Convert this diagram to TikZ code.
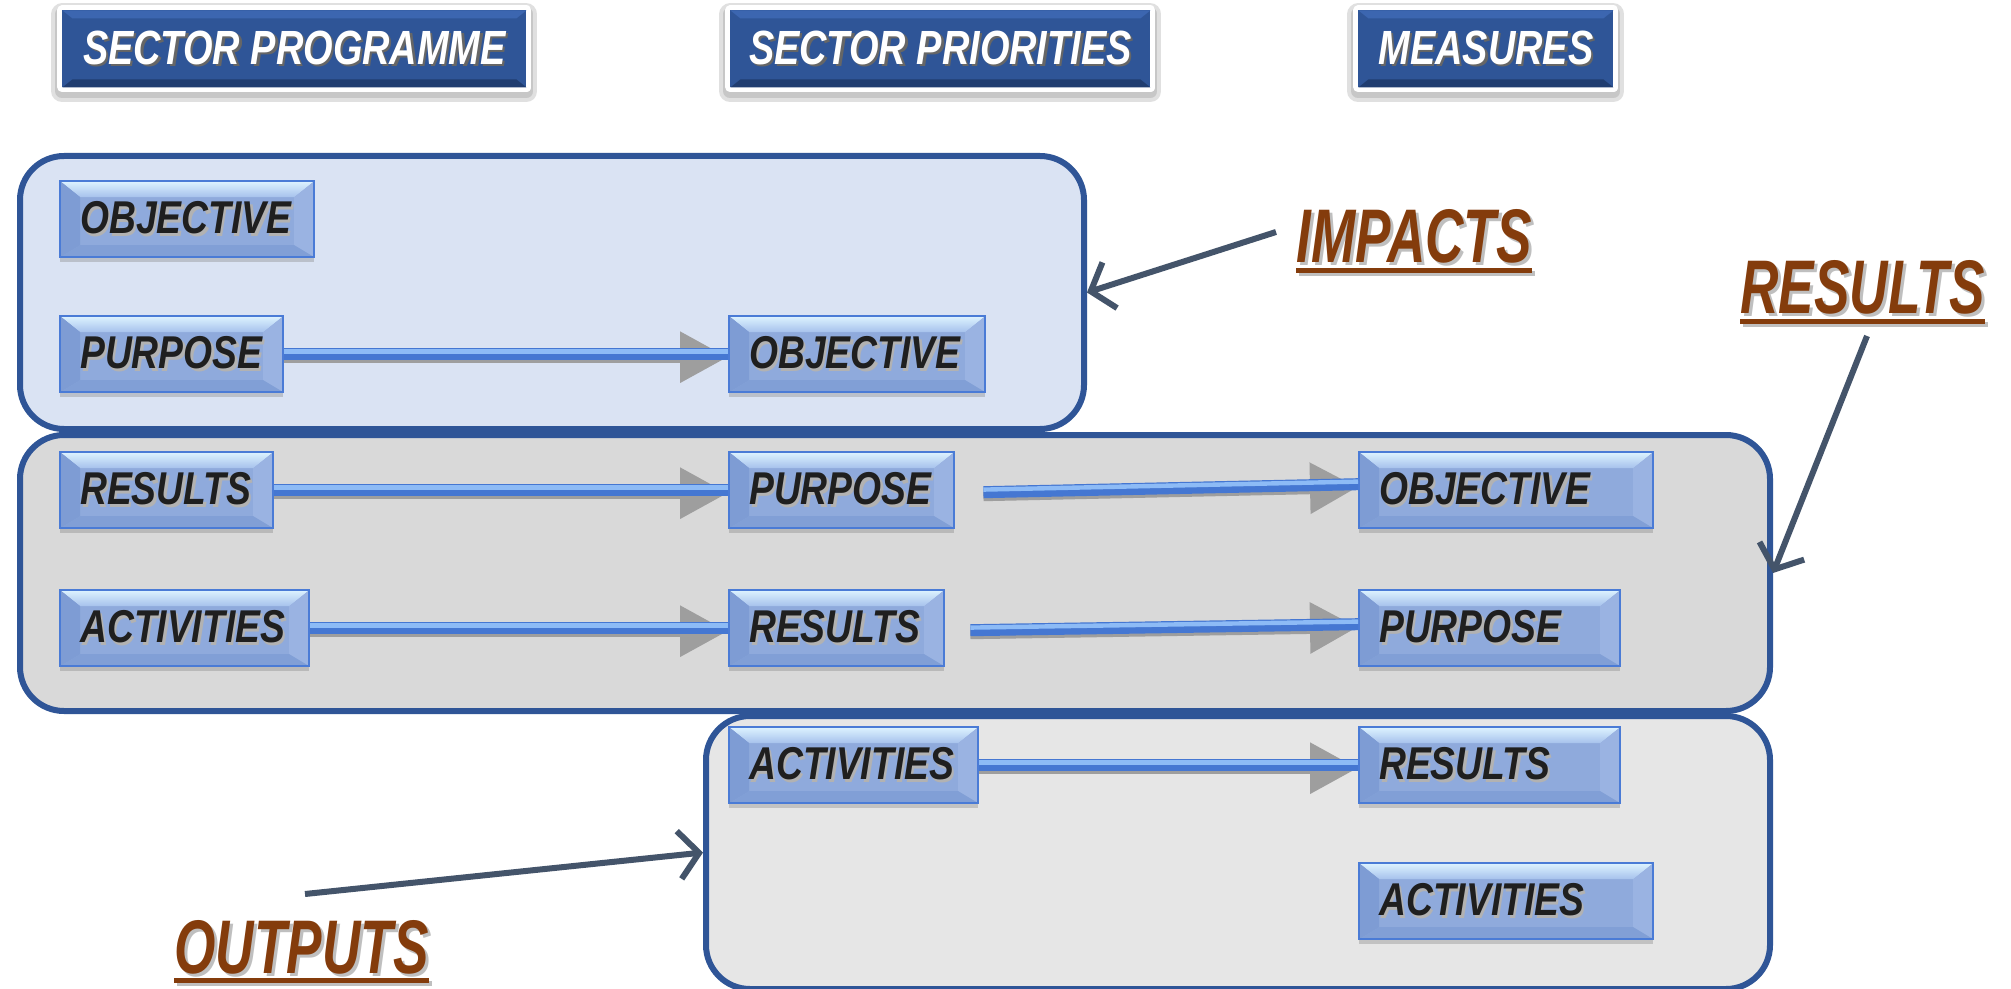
\documentclass[tikz,border=0pt]{standalone}
\usepackage{fontspec}
\newfontfamily\boxfont{Liberation Sans}[FakeStretch=0.81]
\newfontfamily\headfont{Liberation Sans}[FakeStretch=0.79]
\newfontfamily\labfont{Liberation Sans}[FakeStretch=0.70]
\usetikzlibrary{arrows.meta,shadows,calc}
\definecolor{hblue}{HTML}{2F5597}
\definecolor{htop}{HTML}{3C66B0}
\definecolor{hbot}{HTML}{203D70}
\definecolor{sbody}{HTML}{8FAADC}
\definecolor{sbord}{HTML}{4A7BD6}
\definecolor{stop}{HTML}{DDF3FF}
\definecolor{stopb}{HTML}{A6C1EC}
\definecolor{sleft}{HTML}{7E9CD4}
\definecolor{sright}{HTML}{9AB3E2}
\definecolor{sbot}{HTML}{819FD6}
\definecolor{lblue}{HTML}{DAE3F3}
\definecolor{gbox}{HTML}{D9D9D9}
\definecolor{gbox2}{HTML}{E6E6E6}
\definecolor{barblue}{HTML}{4577D2}
\definecolor{barlight}{HTML}{8DBBF6}
\definecolor{slate}{HTML}{44546A}
\definecolor{brown}{HTML}{843C0C}
\newcommand\sh[2]{\rlap{\kern1.2pt\raisebox{-1.2pt}{\color{#1}#2}}#2}
\newcommand\ulab[1]{%
  \setbox0\hbox{#1}%
  \rlap{\kern1.5pt\raisebox{-1.5pt}{\color{black!25}\vtop{\copy0\kern2pt\hrule height2.6pt width\wd0}}}%
  \vtop{\copy0\kern2pt\hrule height2.6pt width\wd0}}
\tikzset{
  sbevel/.style={path picture={
    \path (path picture bounding box.north west) coordinate (pNW)
          (path picture bounding box.north east) coordinate (pNE)
          (path picture bounding box.south west) coordinate (pSW)
          (path picture bounding box.south east) coordinate (pSE);
    \shade[top color=stop, bottom color=stopb] (pNW) -- (pNE) -- ([shift={(-10pt,-8pt)}]pNE) -- ([shift={(10pt,-8pt)}]pNW) -- cycle;
    \fill[sleft] (pNW) -- ([shift={(10pt,-8pt)}]pNW) -- ([shift={(10pt,6pt)}]pSW) -- (pSW) -- cycle;
    \fill[sright] (pNE) -- ([shift={(-10pt,-8pt)}]pNE) -- ([shift={(-10pt,6pt)}]pSE) -- (pSE) -- cycle;
    \fill[sbot] (pSW) -- ([shift={(10pt,6pt)}]pSW) -- ([shift={(-10pt,6pt)}]pSE) -- (pSE) -- cycle;
  }},
  hbevel/.style={path picture={
    \path (path picture bounding box.north west) coordinate (pNW)
          (path picture bounding box.north east) coordinate (pNE)
          (path picture bounding box.south west) coordinate (pSW)
          (path picture bounding box.south east) coordinate (pSE);
    \fill[htop] (pNW) -- (pNE) -- ([shift={(-5pt,-4pt)}]pNE) -- ([shift={(5pt,-4pt)}]pNW) -- cycle;
    \fill[hbot] (pSW) -- ([shift={(5pt,4pt)}]pSW) -- ([shift={(-5pt,4pt)}]pSE) -- (pSE) -- cycle;
  }},
  sbox/.style={anchor=north west, fill=sbody, minimum height=38pt, inner xsep=10pt, inner ysep=0pt,
    align=left, font=\boxfont\bfseries\itshape\fontsize{23}{23}\selectfont, text=black!88,
    drop shadow={shadow xshift=0pt, shadow yshift=-2.5pt, opacity=.35},
    sbevel, draw=sbord, line width=1.2pt},
  hbox/.style={anchor=north west, fill=hblue, minimum height=38.5pt, inner sep=0pt,
    font=\headfont\bfseries\itshape\fontsize{24}{24}\selectfont, text=white,
    preaction={draw=black!12, line width=11pt, line join=round, transform canvas={yshift=-2pt}},
    preaction={draw=black!22, line width=7pt, line join=round, transform canvas={yshift=-2pt}},
    preaction={draw=white, line width=5pt, line join=round}, hbevel},
  bigbox/.style={anchor=north west, draw=hblue, line width=3pt, rounded corners=22pt, inner sep=0pt},
  barshadow/.style={draw=black!38, fill=black!38, line width=6pt, transform canvas={yshift=-1.5pt},
    -{Triangle[length=24pt,width=24pt]}},
  bar/.style={draw=barblue, line width=6pt},
  barhi/.style={draw=barlight, line width=2.2pt, transform canvas={yshift=1.3pt}},
  callout/.style={draw=slate, line width=3pt, -{Straight Barb[length=10pt,width=24pt,line width=3pt]}},
  lab/.style={anchor=base west, inner sep=0pt, text=brown,
    font=\labfont\bfseries\itshape\fontsize{38}{38}\selectfont}
}
\newcommand\flow[2]{\draw[barshadow] #1 -- #2; \draw[bar] #1 -- #2; \draw[barhi] #1 -- #2;}
\begin{document}
\begin{tikzpicture}[x=0.5pt,y=-0.5pt]
\useasboundingbox (0,0) rectangle (2011,989);
\fill[white] (0,0) rectangle (2011,989);
% headers
\node[hbox, minimum width=232pt] (h1) at (62,10) {\sh{black!60}{SECTOR PROGRAMME}};
\node[hbox, minimum width=210pt] (h2) at (730,10) {\sh{black!60}{SECTOR PRIORITIES}};
\node[hbox, minimum width=127.5pt] (h3) at (1358,10) {\sh{black!60}{MEASURES}};
% big boxes
\node[bigbox, fill=lblue, minimum width=532pt, minimum height=136.5pt] (imp) at (17,153) {};
\node[bigbox, fill=gbox, minimum width=875pt, minimum height=138pt] (res) at (17,432) {};
\node[bigbox, fill=gbox2, minimum width=532pt, minimum height=136.5pt] (out) at (703,713) {};
% small boxes
\node[sbox, text width=107pt] (a1) at (59,180) {\sh{black!30}{OBJECTIVE}};
\node[sbox, text width=91.5pt] (a2) at (59,315) {\sh{black!30}{PURPOSE}};
\node[sbox, text width=108pt] (b2) at (728,315) {\sh{black!30}{OBJECTIVE}};
\node[sbox, text width=86.5pt] (a3) at (59,451) {\sh{black!30}{RESULTS}};
\node[sbox, text width=92.5pt] (b3) at (728,451) {\sh{black!30}{PURPOSE}};
\node[sbox, text width=127pt] (c3) at (1358,451) {\sh{black!30}{OBJECTIVE}};
\node[sbox, text width=104.5pt] (a4) at (59,589) {\sh{black!30}{ACTIVITIES}};
\node[sbox, text width=87.5pt] (b4) at (728,589) {\sh{black!30}{RESULTS}};
\node[sbox, text width=110.5pt] (c4) at (1358,589) {\sh{black!30}{PURPOSE}};
\node[sbox, text width=104.5pt] (b5) at (728,726) {\sh{black!30}{ACTIVITIES}};
\node[sbox, text width=110.5pt] (c5) at (1358,726) {\sh{black!30}{RESULTS}};
\node[sbox, text width=127pt] (c6) at (1358,862) {\sh{black!30}{ACTIVITIES}};
% flow arrows
\flow{(a2.east)}{(b2.west)}
\flow{(a3.east)}{(b3.west)}
\flow{([xshift=14pt,yshift=-1pt]b3.east)}{([yshift=3pt]c3.west)}
\flow{(a4.east)}{(b4.west)}
\flow{([xshift=12.5pt,yshift=-1pt]b4.east)}{([yshift=2pt]c4.west)}
\flow{(b5.east)}{(c5.west)}
% labels
\node[lab] (limp) at (1296,263) {\ulab{IMPACTS}};
\node[lab] (lres) at (1740,314) {\ulab{RESULTS}};
\node[lab] (lout) at (174,973) {\ulab{OUTPUTS}};
% callouts
\coordinate (impT) at (1276,232);
\coordinate (resT) at (1867,336);
\coordinate (outT) at (305,894);
\draw[callout] (impT) -- (imp.east);
\draw[callout] (resT) -- (res.east);
\draw[callout] (outT) -- (out.west);
\end{tikzpicture}
\end{document}
